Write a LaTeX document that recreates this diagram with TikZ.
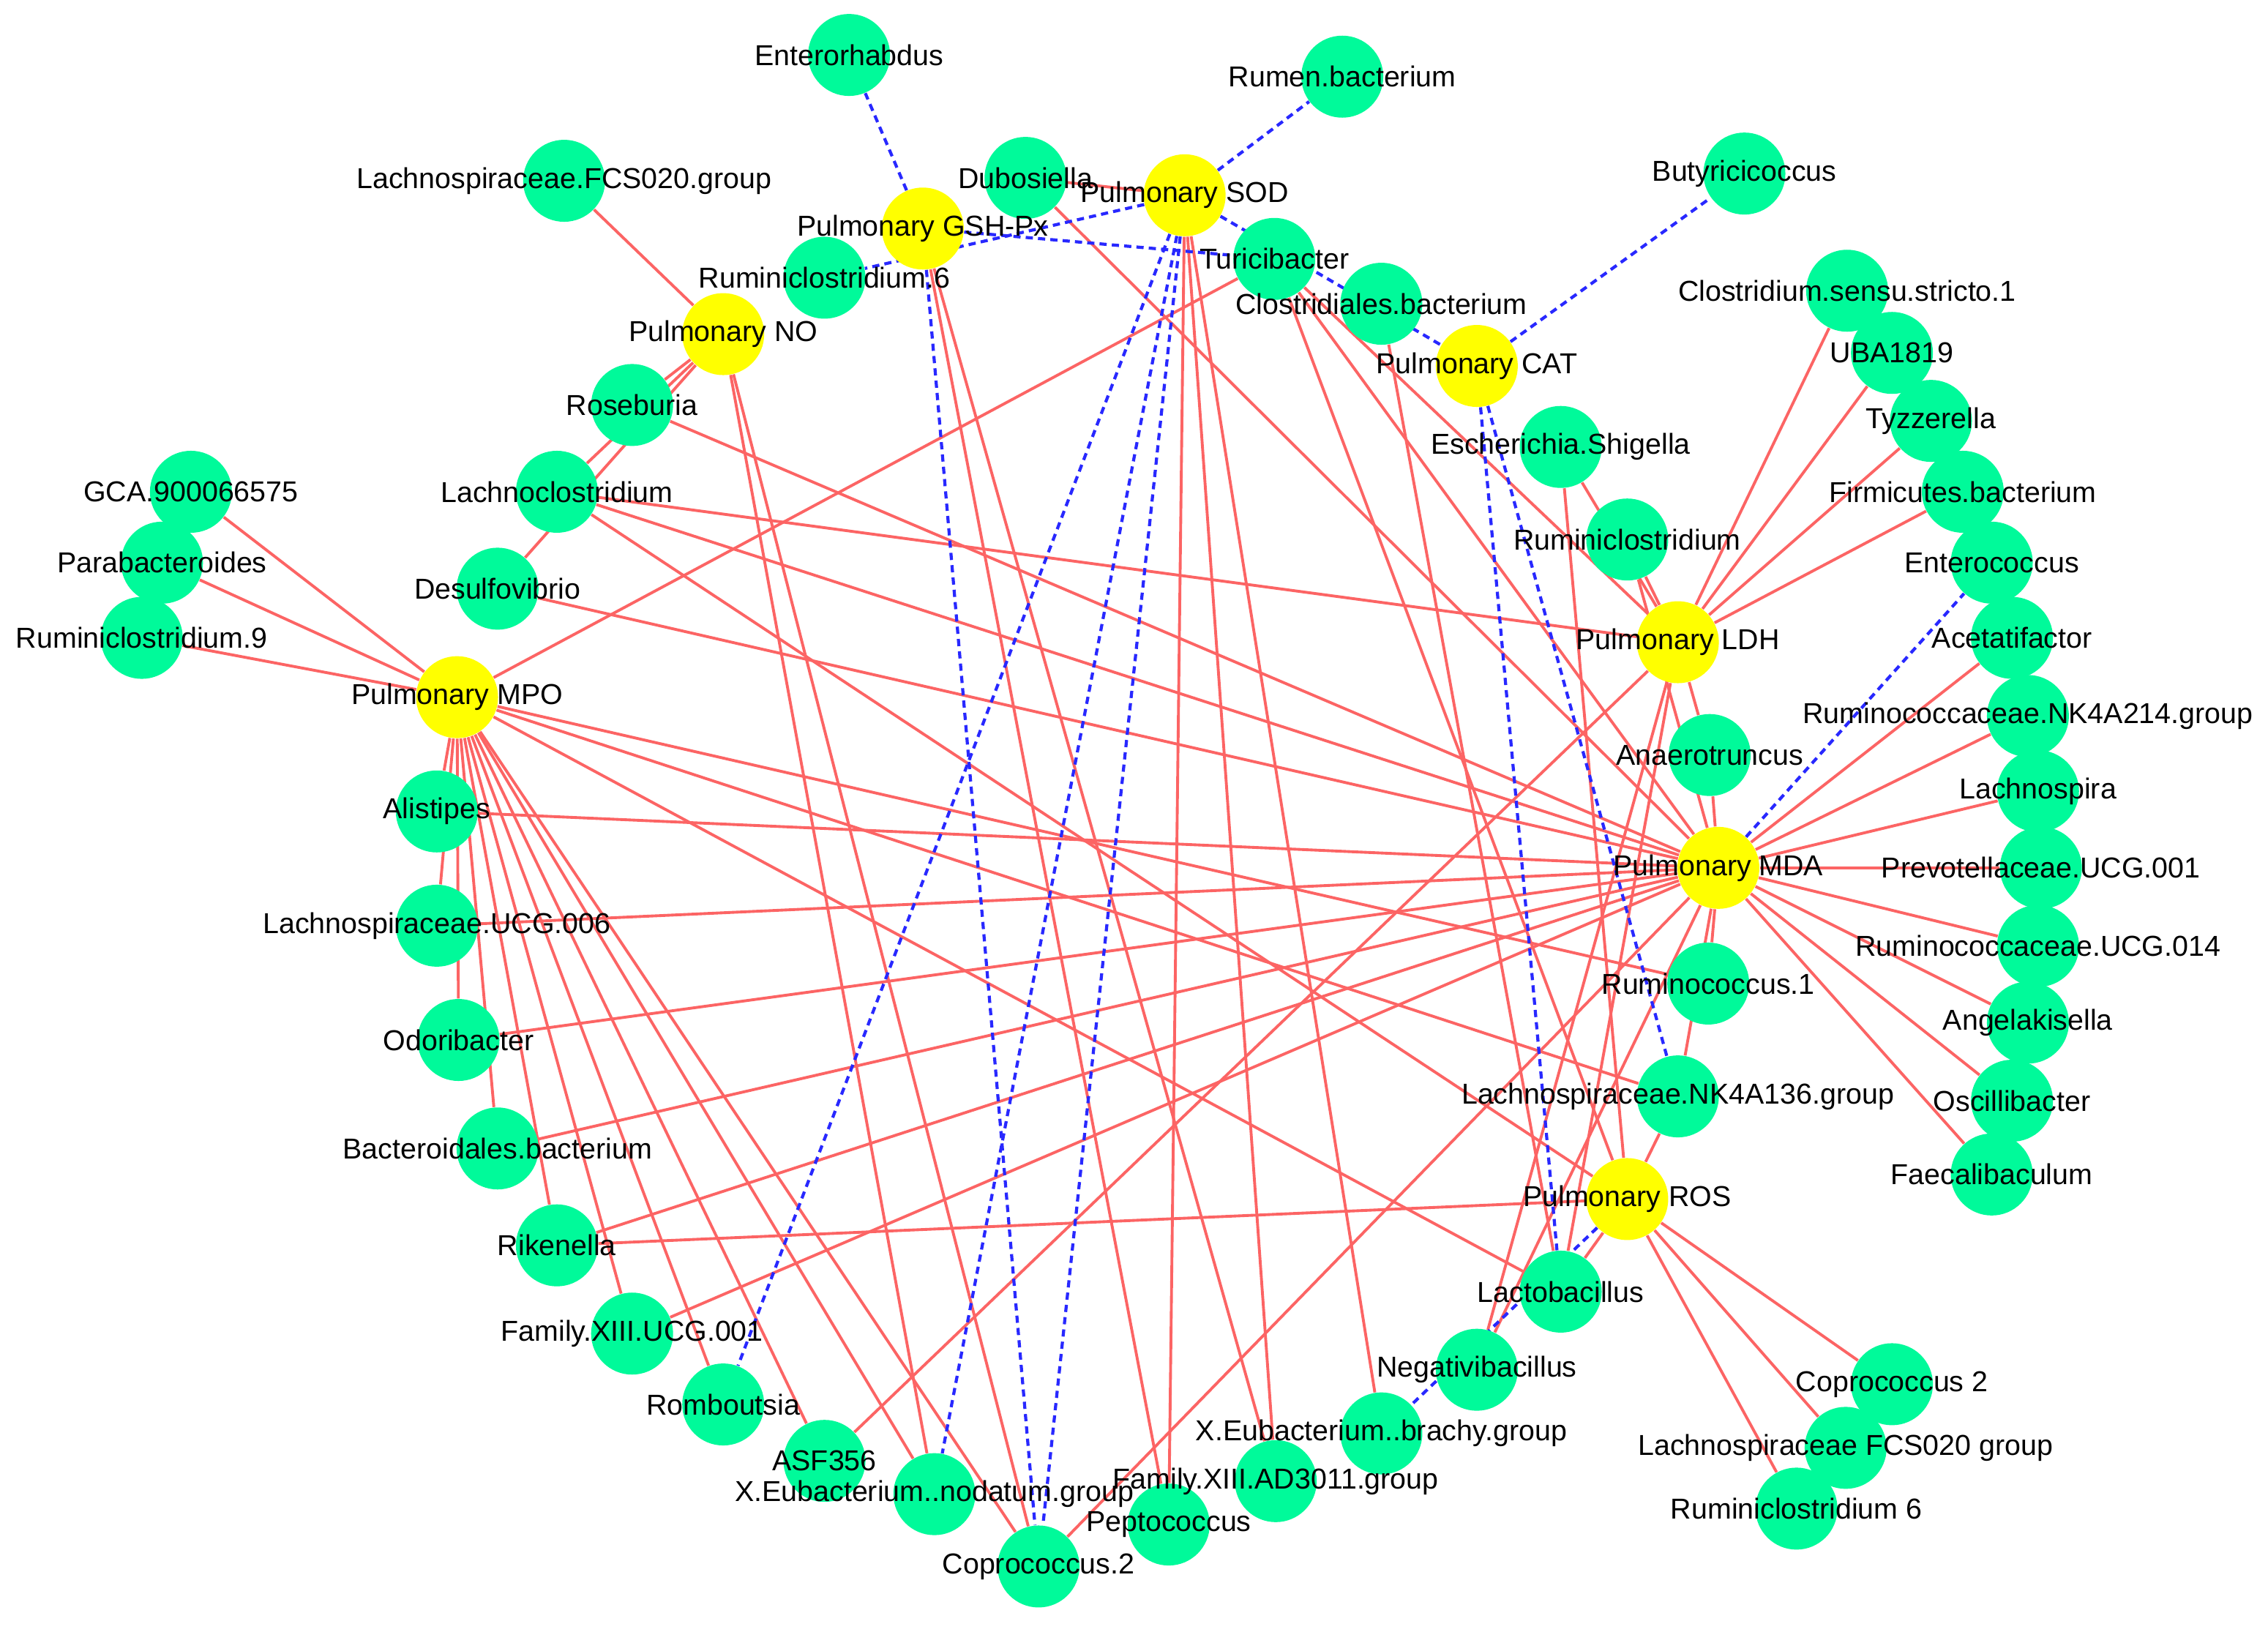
\documentclass[tikz,border=0pt]{standalone}
\usepackage{fontspec}
\setmainfont{Liberation Sans}
\pgfdeclarelayer{bglayer}
\pgfdeclarelayer{edgelayer}
\pgfsetlayers{bglayer,edgelayer,main}
\definecolor{gfill}{RGB}{0,250,154}
\definecolor{yfill}{RGB}{255,255,0}
\definecolor{posred}{RGB}{252,100,100}
\definecolor{negblue}{RGB}{40,40,255}
\tikzset{
  gnode/.style={circle, fill=gfill, minimum size=1.12cm, inner sep=0pt},
  ynode/.style={circle, fill=yfill, minimum size=1.12cm, inner sep=0pt},
  posedge/.style={draw=posred, line width=1.1pt},
  negedge/.style={draw=negblue, line width=1.2pt, dash pattern=on 2.8pt off 2pt},
  labtext/.style={inner sep=0pt, font=\fontsize{11.2pt}{13pt}\selectfont}
}
\begin{document}
\begin{tikzpicture}[x=0.019765cm, y=-0.019765cm]
\useasboundingbox (0,0) rectangle (1568,1128);
\begin{pgfonlayer}{bglayer}
\fill[white] (0,0) rectangle (1568,1128);
\end{pgfonlayer}
% index nodes
\foreach \n/\x/\y in {gsh/638/158, sod/819/135, pno/500/231, cat/1021/253,
  mpo/316/482, ldh/1160/444, mda/1188/600, ros/1125/829}
  \node[ynode] (\n) at (\x,\y) {};
% genus nodes
\foreach \n/\x/\y in {ent/587/38, rum/928/53, lfcs/390/125, dub/709/123,
  but/1206/120, rsix/570/192, tur/881/179, clo/955/210, css/1277/201,
  uba/1308/244, tyz/1335/291, esc/1079/309, fir/1357/340, rose/437/280,
  lcl/385/340, gca/132/340, par/112/389, rnine/98/441, des/344/407,
  rcl/1125/373, ecc/1377/389, ace/1391/441, nkb/1402/495, ana/1182/522,
  lsp/1409/547, ali/302/561, pre/1411/600, ucgs/302/640, ucgf/1409/654,
  rone/1181/680, ang/1402/707, odo/317/719, nka/1160/758, osc/1391/761,
  bac/344/794, fae/1377/812, rik/385/861, lac/1079/893, fuc/437/922,
  ngv/1021/947, cptwo/1308/957, rom/500/971, bra/955/991, lfg/1276/1001,
  asf/570/1010, fad/882/1024, nod/646/1033, rsx/1242/1043, pep/808/1054,
  cop/718/1083}
  \node[gnode] (\n) at (\x,\y) {};
% connectors
\begin{pgfonlayer}{edgelayer}
\foreach \a/\b in {mpo/gca, mpo/par, mpo/rnine, mpo/tur, mpo/ali, mpo/ucgs,
  mpo/odo, mpo/bac, mpo/rik, mpo/fuc, mpo/rom, mpo/asf, mpo/nod, mpo/cop,
  mpo/rone, mpo/nka, mpo/lac,
  pno/lfcs, pno/rose, pno/lcl, pno/des, pno/nod, pno/cop,
  gsh/pep, gsh/fad,
  sod/dub, sod/pep, sod/fad, sod/bra,
  ldh/css, ldh/uba, ldh/tyz, ldh/fir, ldh/rcl, ldh/esc, ldh/lcl, ldh/ana,
  ldh/asf, ldh/tur, ldh/lac, ldh/ngv,
  mda/ace, mda/nkb, mda/lsp, mda/pre, mda/ucgf, mda/ang, mda/osc, mda/fae,
  mda/ana, mda/rcl, mda/rone, mda/nka, mda/dub, mda/tur, mda/rose, mda/lcl,
  mda/des, mda/ali, mda/ucgs, mda/odo, mda/bac, mda/rik, mda/fuc, mda/cop,
  mda/ngv,
  ros/cptwo, ros/lfg, ros/rsx, ros/rik, ros/lac, ros/nka, ros/esc, ros/tur,
  ros/lcl, clo/lac}
  \draw[posedge] (\a) -- (\b);
\foreach \a/\b in {gsh/ent, gsh/tur, gsh/cop, sod/rum, sod/rsix, sod/cat,
  sod/rom, sod/nod, sod/cop, cat/but, cat/lac, cat/nka, mda/ecc, ros/bra}
  \draw[negedge] (\a) -- (\b);
\end{pgfonlayer}
% labels
\foreach \n/\t in {gsh/Pulmonary GSH-Px, sod/Pulmonary SOD, pno/Pulmonary NO,
  cat/Pulmonary CAT, mpo/Pulmonary MPO, ldh/Pulmonary LDH, mda/Pulmonary MDA,
  ros/Pulmonary ROS, ent/Enterorhabdus, rum/Rumen.bacterium,
  lfcs/Lachnospiraceae.FCS020.group, dub/Dubosiella, but/Butyricicoccus,
  rsix/Ruminiclostridium.6, tur/Turicibacter, clo/Clostridiales.bacterium,
  css/Clostridium.sensu.stricto.1, uba/UBA1819, tyz/Tyzzerella,
  esc/Escherichia.Shigella, fir/Firmicutes.bacterium, rose/Roseburia,
  lcl/Lachnoclostridium, gca/GCA.900066575, par/Parabacteroides,
  rnine/Ruminiclostridium.9, des/Desulfovibrio, rcl/Ruminiclostridium,
  ecc/Enterococcus, ace/Acetatifactor, nkb/Ruminococcaceae.NK4A214.group,
  ana/Anaerotruncus, lsp/Lachnospira, ali/Alistipes,
  pre/Prevotellaceae.UCG.001, ucgs/Lachnospiraceae.UCG.006,
  ucgf/Ruminococcaceae.UCG.014, rone/Ruminococcus.1, ang/Angelakisella,
  odo/Odoribacter, nka/Lachnospiraceae.NK4A136.group, osc/Oscillibacter,
  bac/Bacteroidales.bacterium, fae/Faecalibaculum, rik/Rikenella,
  lac/Lactobacillus, fuc/Family.XIII.UCG.001, ngv/Negativibacillus,
  cptwo/Coprococcus 2, rom/Romboutsia, bra/X.Eubacterium..brachy.group,
  lfg/Lachnospiraceae FCS020 group, asf/ASF356,
  fad/Family.XIII.AD3011.group, nod/X.Eubacterium..nodatum.group,
  rsx/Ruminiclostridium 6, pep/Peptococcus, cop/Coprococcus.2}
  \node[labtext] (\n-t) at (\n) {\t};
\end{tikzpicture}
\end{document}
